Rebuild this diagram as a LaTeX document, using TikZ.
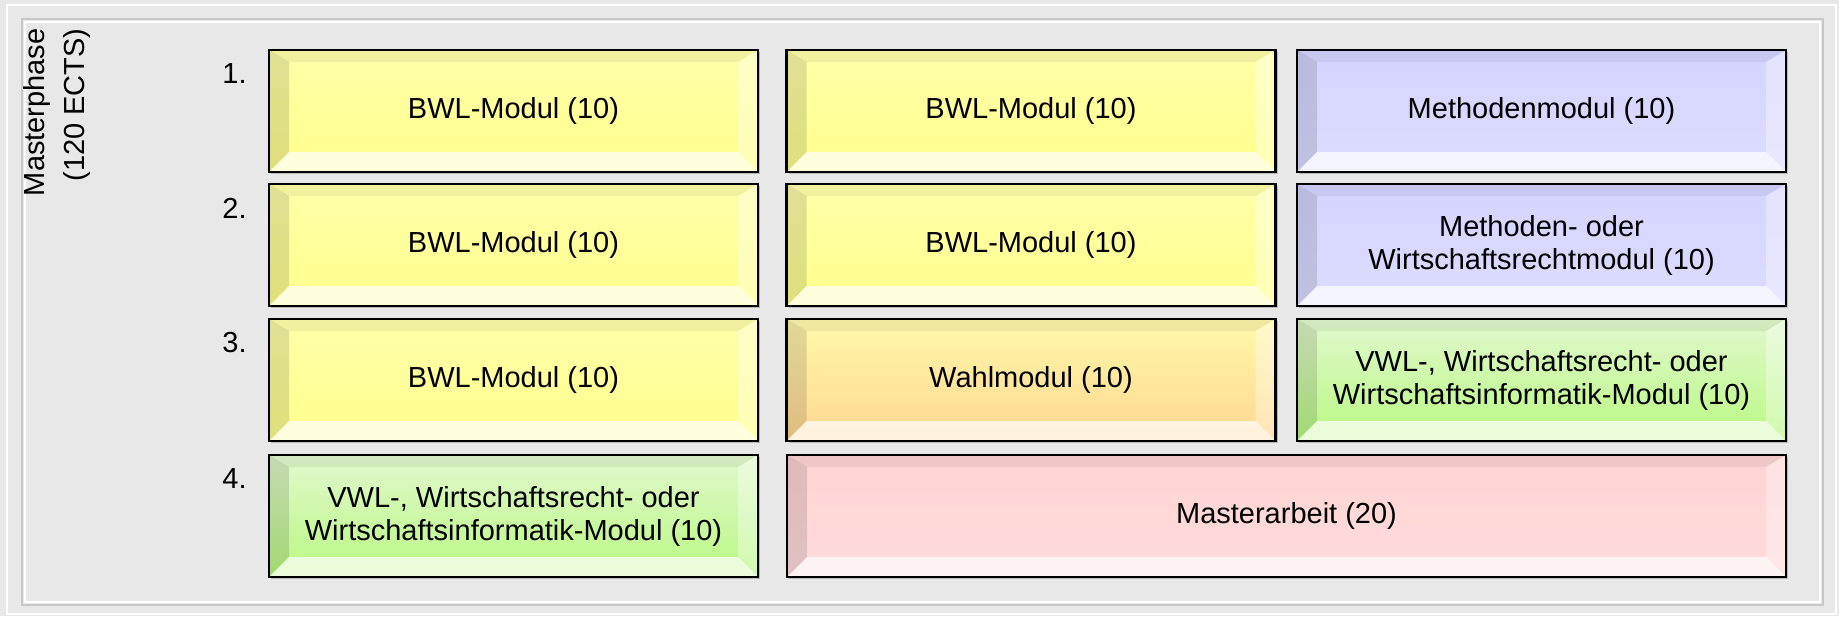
\documentclass[tikz,border=0pt]{standalone}
\usepackage{fontspec}
\setmainfont{Liberation Sans}
\usetikzlibrary{shadows}

\definecolor{bggray}{RGB}{232,232,232}
\definecolor{framegray}{RGB}{200,200,200}
\definecolor{yelA}{RGB}{255,255,170}
\definecolor{yelB}{RGB}{255,255,140}
\definecolor{bluA}{RGB}{212,212,255}
\definecolor{bluB}{RGB}{220,220,255}
\definecolor{grnA}{RGB}{225,248,205}
\definecolor{grnB}{RGB}{185,248,130}
\definecolor{orgA}{RGB}{255,248,170}
\definecolor{orgB}{RGB}{255,215,145}
\definecolor{rosA}{RGB}{255,212,212}
\definecolor{rosB}{RGB}{255,220,220}

% bevel faces of a module box
\newcommand\bevelfaces{%
  \coordinate (bA) at (path picture bounding box.south west);
  \coordinate (bB) at (path picture bounding box.south east);
  \coordinate (bC) at (path picture bounding box.north east);
  \coordinate (bD) at (path picture bounding box.north west);
  \coordinate (ba) at ([shift={(10pt,10pt)}]bA);
  \coordinate (bb) at ([shift={(-10pt,10pt)}]bB);
  \coordinate (bc) at ([shift={(-10pt,-6pt)}]bC);
  \coordinate (bd) at ([shift={(10pt,-6pt)}]bD);
  \fill[black,opacity=.12] (bA) -- (bD) -- (bd) -- (ba) -- cycle;
  \fill[black,opacity=.06] (bD) -- (bC) -- (bc) -- (bd) -- cycle;
  \fill[white,opacity=.35] (bC) -- (bB) -- (bb) -- (bc) -- cycle;
  \fill[white,opacity=.70] (bA) -- (bB) -- (bb) -- (ba) -- cycle;
}

\tikzset{
  modul/.style={rectangle, draw=black, line width=1.2pt,
    minimum width=244.5pt, minimum height=61pt, inner sep=0pt,
    align=center, font=\fontsize{14.5}{16.5}\selectfont,
    drop shadow={shadow xshift=1.2pt, shadow yshift=-1.2pt, opacity=.45},
    path picture={\bevelfaces}},
  bwl/.style={modul, top color=yelA, bottom color=yelB},
  methode/.style={modul, top color=bluA, bottom color=bluB},
  wahlbereich/.style={modul, top color=grnA, bottom color=grnB},
  wahl/.style={modul, top color=orgA, bottom color=orgB},
  arbeit/.style={modul, top color=rosA, bottom color=rosB},
  nummer/.style={anchor=base east, inner sep=0pt, font=\fontsize{14.5}{16.5}\selectfont},
}

\begin{document}
\begin{tikzpicture}[x=0.5pt, y=-0.5pt]
  \useasboundingbox (0,0) rectangle (1839,616);
  \fill[bggray] (0,0) rectangle (1839,616);
  \draw[white, line width=.8pt] (7,5) rectangle (1836,614);
  \draw[framegray, line width=1pt] (22,19) rectangle (1823,605);
  \draw[white, line width=.8pt] (25,22) rectangle (1820,602);

  \node[rotate=90, anchor=east, align=right, inner sep=0pt,
        font=\fontsize{14.5}{20}\selectfont] (phase) at (57,28) {Masterphase\\(120 ECTS)};

  \node[nummer] (n1) at (247,83) {1.};
  \node[nummer] (n2) at (247,218) {2.};
  \node[nummer] (n3) at (247,352) {3.};
  \node[nummer] (n4) at (247,488) {4.};

  \node[bwl] (r1c1) at (513.5,111) {BWL-Modul (10)};
  \node[bwl] (r1c2) at (1031,111) {BWL-Modul (10)};
  \node[methode] (r1c3) at (1541.5,111) {Methodenmodul (10)};

  \node[bwl] (r2c1) at (513.5,245) {BWL-Modul (10)};
  \node[bwl] (r2c2) at (1031,245) {BWL-Modul (10)};
  \node[methode] (r2c3) at (1541.5,245) {Methoden- oder\\Wirtschaftsrechtmodul (10)};

  \node[bwl] (r3c1) at (513.5,380) {BWL-Modul (10)};
  \node[wahl] (r3c2) at (1031,380) {Wahlmodul (10)};
  \node[wahlbereich] (r3c3) at (1541.5,380) {VWL-, Wirtschaftsrecht- oder\\Wirtschaftsinformatik-Modul (10)};

  \node[wahlbereich] (r4c1) at (513.5,516) {VWL-, Wirtschaftsrecht- oder\\Wirtschaftsinformatik-Modul (10)};
  \node[arbeit, minimum width=499.5pt] (thesis) at (1286.5,516) {Masterarbeit (20)};
\end{tikzpicture}
\end{document}
